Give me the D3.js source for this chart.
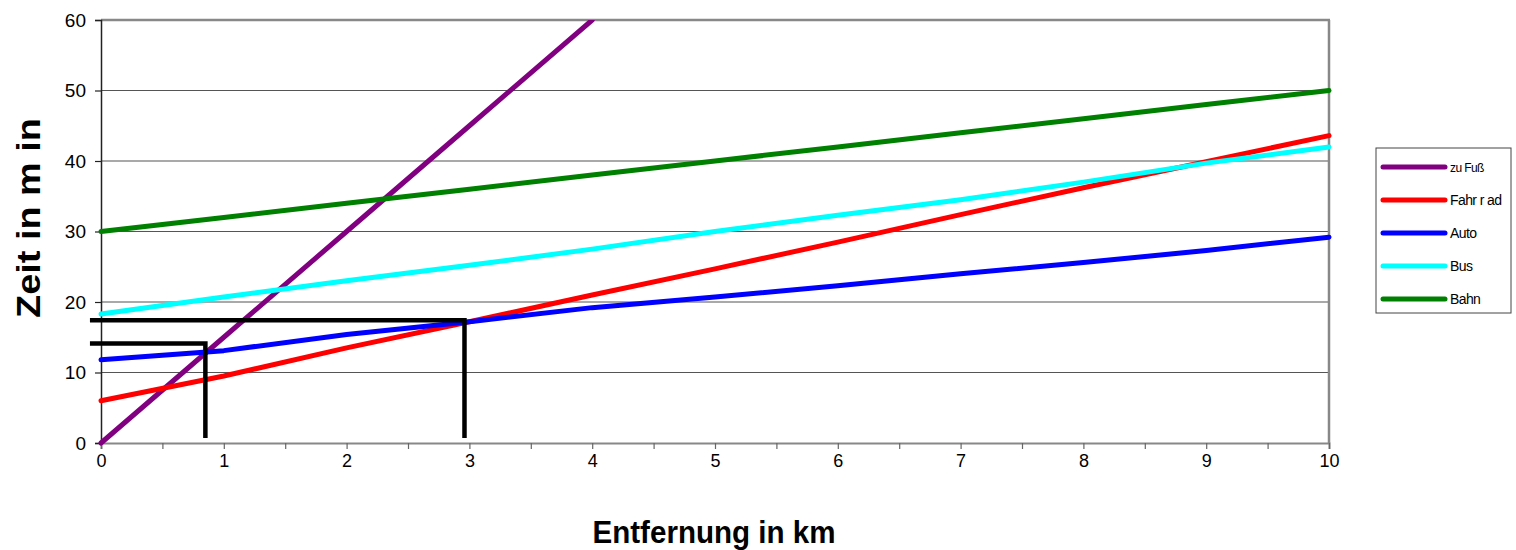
<!DOCTYPE html>
<html><head><meta charset="utf-8">
<script src="https://cdn.jsdelivr.net/npm/d3@7"></script>
<style>body{margin:0;background:#fff}svg{display:block}</style>
</head><body>
<svg id="c" width="1516" height="550"></svg>
<script>
const km = [0,1,2,3,4,5,6,7,8,9,10];
const zuFuss  = [0,15,30,45,60];
const fahrrad = [6,9.5,13.5,17.2,21,24.7,28.5,32.4,36.2,39.9,43.6];
const auto    = [11.8,13.1,15.4,17.2,19.2,20.7,22.3,24,25.6,27.3,29.2];
const bus     = [18.3,20.7,23,25.2,27.5,30,32.3,34.5,37,39.7,42];
const bahn    = [30,32,34,36,38,40,42,44,46,48,50];
const seriesNames = ["zu Fuß","Fahr r ad","Auto","Bus","Bahn"];
const seriesColors = ["#800080","#ff0000","#0000ff","#00ffff","#008000"];
const seriesValues = [zuFuss,fahrrad,auto,bus,bahn];
const xTicks = [0,1,2,3,4,5,6,7,8,9,10];
const yTicks = [0,10,20,30,40,50,60];
// annotation guide lines (km, min)
const guide1 = [[-0.09,17.4],[2.96,17.4],[2.96,0.7]];
const guide2 = [[-0.09,14.1],[0.85,14.1],[0.85,0.7]];

const svg = d3.select("#c");
const L=101,R=1329,T=20,B=443;
const x = d3.scaleLinear().domain([0,10]).range([L,R]);
const y = d3.scaleLinear().domain([0,60]).range([B,T]);
const font = "'Liberation Sans', Arial, sans-serif";

// gridlines
svg.append("g").selectAll("line").data(yTicks.filter(d=>d>0&&d<60)).join("line")
  .attr("x1",L).attr("x2",R).attr("y1",d=>y(d)).attr("y2",d=>y(d))
  .attr("stroke","#555").attr("stroke-width",1.2);
// top & right border
svg.append("line").attr("x1",L).attr("x2",R+1).attr("y1",T).attr("y2",T).attr("stroke","#888").attr("stroke-width",2.5);
svg.append("line").attr("x1",R).attr("x2",R).attr("y1",T).attr("y2",B).attr("stroke","#888").attr("stroke-width",2.5);

// x axis
const xa = svg.append("g").attr("transform",`translate(0,${B})`)
  .call(d3.axisBottom(x).tickValues(d3.range(0,10.01,0.5)).tickSize(6).tickFormat(d=>Number.isInteger(d)?d:""));
xa.select(".domain").attr("stroke","#888").attr("stroke-width",2);
xa.selectAll(".tick line").attr("stroke","#666").attr("stroke-width",1.2);
xa.selectAll("text").attr("font-family",font).attr("font-size",18).attr("fill","#000").attr("dy","0.85em");

// y axis
const ya = svg.append("g").attr("transform",`translate(${L},0)`)
  .call(d3.axisLeft(y).tickValues(yTicks).tickSize(6));
ya.select(".domain").attr("stroke","#222").attr("stroke-width",1.5);
ya.selectAll(".tick line").attr("stroke","#222").attr("stroke-width",1.2);
ya.selectAll("text").attr("font-family",font).attr("font-size",19).attr("fill","#000").attr("dx","-6");

// clip
svg.append("defs").append("clipPath").attr("id","clip").append("rect")
  .attr("x",L-4).attr("y",T).attr("width",R-L+8).attr("height",B-T+4);

const line = d3.line().x((d,i)=>x(km[i])).y(d=>y(d));
const g = svg.append("g").attr("clip-path","url(#clip)");
seriesValues.forEach((vals,i)=>{
  g.append("path").attr("d",line(vals)).attr("fill","none")
   .attr("stroke",seriesColors[i]).attr("stroke-width",5).attr("stroke-linejoin","round").attr("stroke-linecap","round");
});

// guides
const gl = d3.line().x(d=>x(d[0])).y(d=>y(d[1]));
[guide1,guide2].forEach(gd=>{
  svg.append("path").attr("d",gl(gd)).attr("fill","none").attr("stroke","#000").attr("stroke-width",4.5).attr("stroke-linejoin","miter");
});

// axis titles
svg.append("text").attr("x",714).attr("y",543).attr("text-anchor","middle")
  .attr("font-family",font).attr("font-weight","bold").attr("font-size",32)
  .attr("textLength",243).attr("lengthAdjust","spacingAndGlyphs").text("Entfernung in km");
svg.append("text").attr("transform","translate(40,218) rotate(-90)").attr("text-anchor","middle")
  .attr("font-family",font).attr("font-weight","bold").attr("font-size",33)
  .attr("textLength",200).attr("lengthAdjust","spacingAndGlyphs").text("Zeit in m in");

// legend
const lg = svg.append("g");
lg.append("rect").attr("x",1376).attr("y",148).attr("width",135).attr("height",165)
  .attr("fill","#fff").attr("stroke","#444").attr("stroke-width",1);
seriesNames.forEach((n,i)=>{
  const yy = 167 + i*33;
  lg.append("line").attr("x1",1383).attr("x2",1445).attr("y1",yy).attr("y2",yy)
    .attr("stroke",seriesColors[i]).attr("stroke-width",5).attr("stroke-linecap","round");
  lg.append("text").attr("x",1450).attr("y",yy+5).attr("font-family",font)
    .attr("font-size",i===0?12:14).attr("letter-spacing",-0.6).text(n);
});
</script>
</body></html>
